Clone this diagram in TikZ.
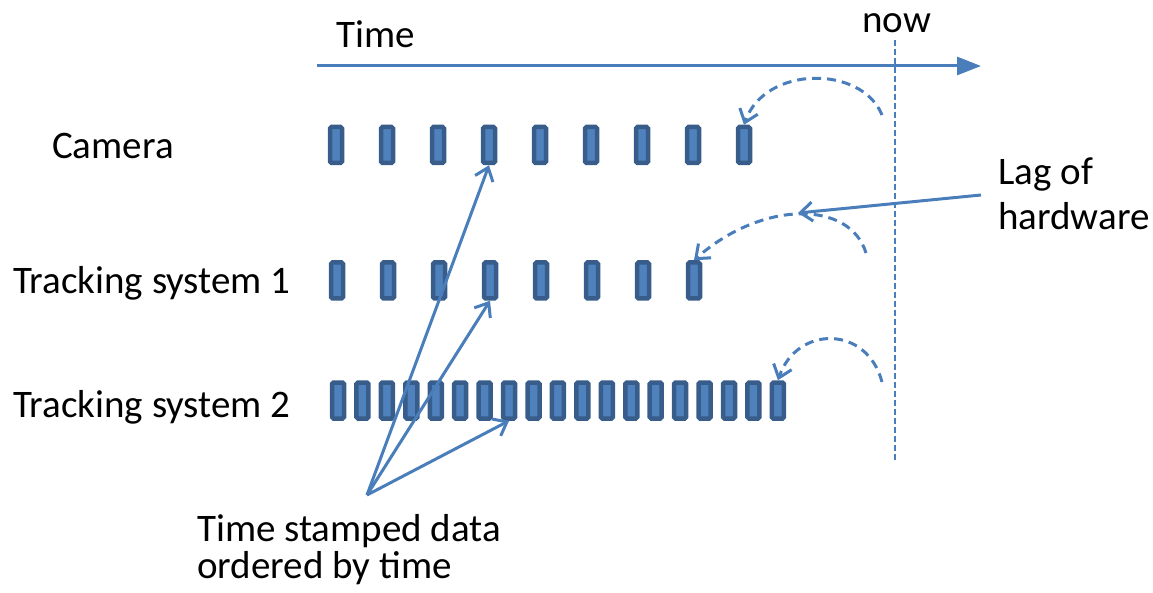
\documentclass[tikz,border=0pt]{standalone}
\usepackage{fontspec}
\setmainfont{Carlito}
\usetikzlibrary{arrows.meta}
\definecolor{lineblue}{HTML}{4A7EBB}
\definecolor{barfill}{HTML}{4F81BD}
\definecolor{bardraw}{HTML}{385D8A}
\tikzset{
  bar/.style={draw=bardraw, fill=barfill, line width=4.5pt, minimum width=12pt, minimum height=36pt, inner sep=0pt, rounded corners=1.5pt},
  lbl/.style={anchor=base west, inner sep=0pt, font=\fontsize{39}{46}\selectfont},
  barb/.style={-{Straight Barb[length=12pt,width=19pt,line width=3pt]}},
  lagarc/.style={lineblue, line width=3pt, dash pattern=on 9pt off 6pt, barb},
  stamp/.style={lineblue, line width=3pt, barb},
}
\begin{document}
\begin{tikzpicture}[x=1pt,y=-1pt]
\useasboundingbox (0,0) rectangle (1153,593);
% labels
\node[lbl] (time) at (336,48) {Time};
\node[lbl] (now) at (862,33) {now};
\node[lbl] (camlbl) at (52,159) {Camera};
\node[lbl] (ts1lbl) at (13,294) {Tracking system 1};
\node[lbl] (ts2lbl) at (13,417) {Tracking system 2};
\node[lbl] (lag1) at (998,185) {Lag of};
\node[lbl] (lag2) at (998,230) {hardware};
\node[lbl] (ts1) at (197,541) {Time stamped data};
\node[lbl] (ts2) at (197,578) {ordered by time};
% time axis
\coordinate (axisL) at (317,66);
\coordinate (axisR) at (981,66);
\draw[lineblue, line width=3pt, -{Triangle[length=24pt,width=18pt]}] (axisL) -- (axisR);
% now line
\coordinate (nowT) at (895,40);
\coordinate (nowB) at (895,460);
\draw[lineblue, line width=2.5pt, dash pattern=on 6pt off 3pt] (nowT) -- (nowB);
% bars
\foreach \i in {1,...,9} \node[bar] (cam\i) at ({336+51*(\i-1)},145) {};
\foreach \i in {1,...,8} \node[bar] (tsa\i) at ({337+51*(\i-1)},280.5) {};
\foreach \i in {1,...,19} \node[bar] (tsb\i) at ({338+24.44*(\i-1)},400.5) {};
% lag arcs
\coordinate (arcA) at (882,115);
\coordinate (arcB) at (866,253);
\coordinate (arcC) at (882,382);
\draw[lagarc] (arcA) .. controls (862,65) and (765,65) .. (cam9.north);
\draw[lagarc] (arcB) .. controls (850,200) and (762,200) .. (tsa8.north);
\draw[lagarc] (arcC) .. controls (867,325) and (797,325) .. (tsb19.north);
% lag pointer
\coordinate (lagS) at (981,195);
\coordinate (lagE) at (798,213);
\draw[stamp] (lagS) -- (lagE);
% time stamp arrows
\coordinate (origin) at (367,495);
\draw[stamp] (origin) -- (cam4.south);
\draw[stamp] (origin) -- (tsa4.south);
\draw[stamp] (origin) -- (tsb8.south);
\end{tikzpicture}
\end{document}
